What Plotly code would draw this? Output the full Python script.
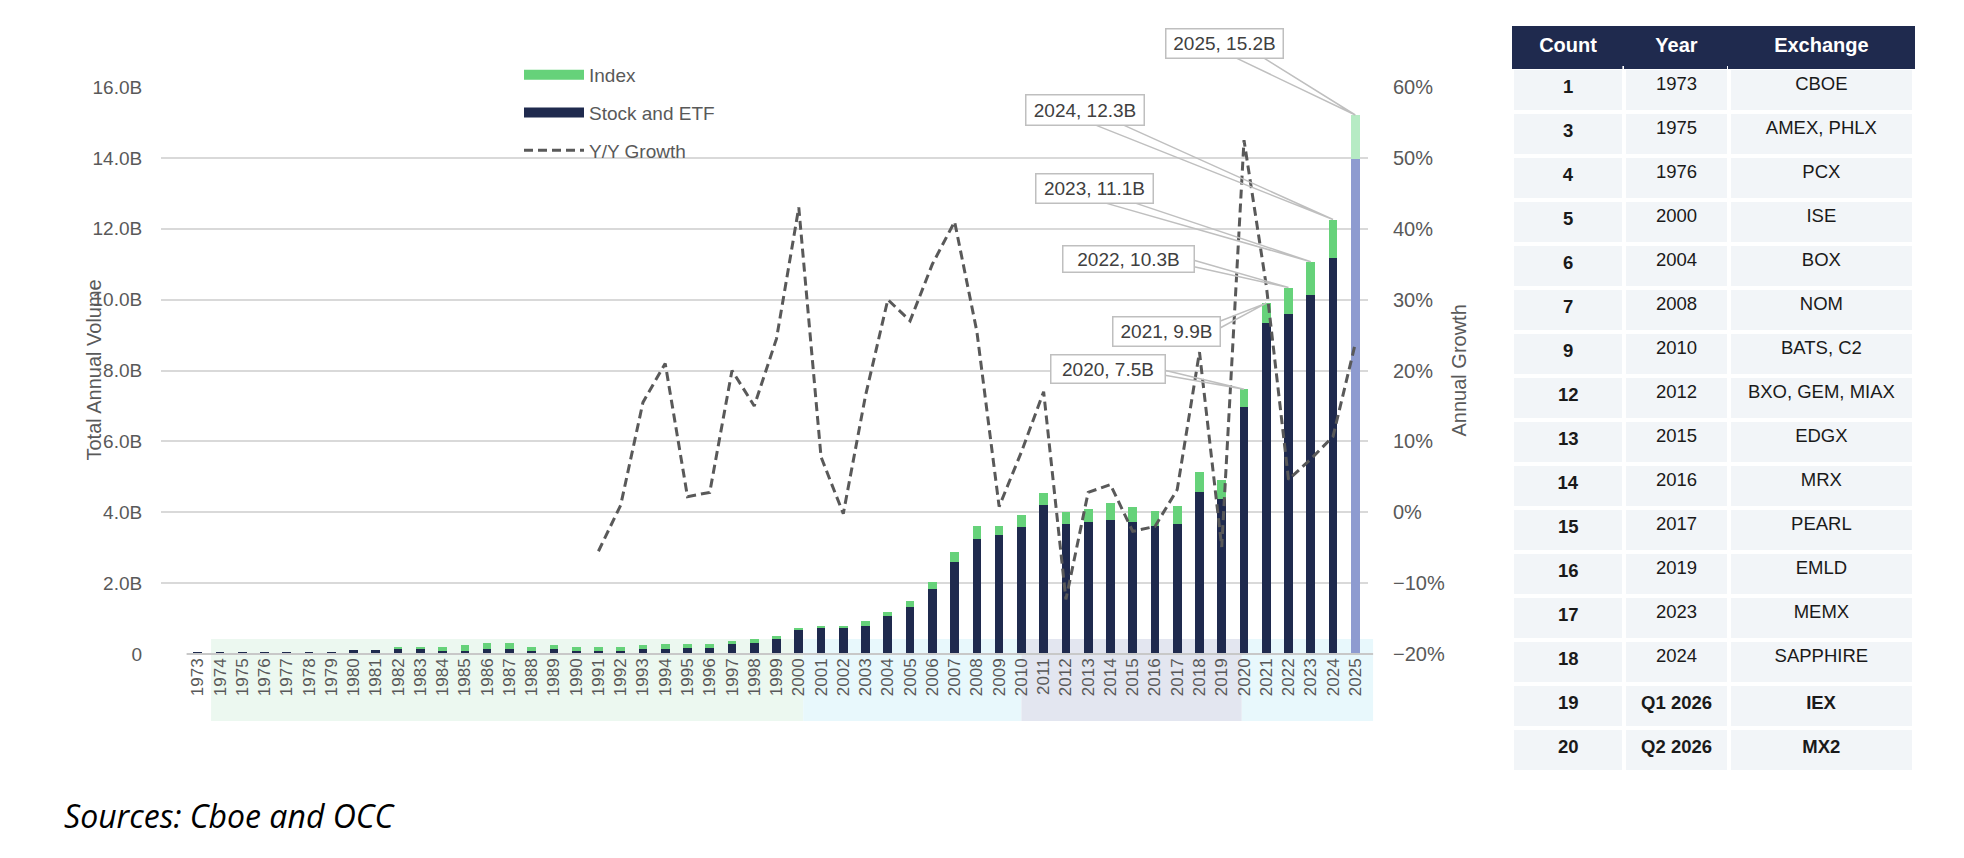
import plotly.graph_objects as go

# annual options volume, billions of contracts
years = list(range(1973, 2026))
stock_etf = [0.07, 0.07, 0.07, 0.07, 0.07, 0.07, 0.07, 0.10, 0.10,
             0.13, 0.13, 0.08, 0.08, 0.13, 0.13, 0.08, 0.13, 0.08, 0.08,
             0.08, 0.13, 0.13, 0.18, 0.18, 0.27, 0.30, 0.43,
             0.67, 0.73, 0.73, 0.80, 1.06, 1.33, 1.83, 2.59, 3.25, 3.36,
             3.57, 4.21, 3.67, 3.72, 3.79, 3.72, 3.61, 3.67, 4.56, 4.37,
             6.98, 9.33, 9.60, 10.12, 11.18, 13.96]
index_vol = [0, 0, 0, 0, 0, 0, 0, 0, 0,
             0.08, 0.08, 0.13, 0.17, 0.17, 0.19, 0.13, 0.12, 0.13, 0.13,
             0.13, 0.12, 0.16, 0.11, 0.11, 0.11, 0.12, 0.08,
             0.075, 0.07, 0.07, 0.12, 0.12, 0.16, 0.21, 0.29, 0.36, 0.25,
             0.35, 0.33, 0.35, 0.37, 0.47, 0.42, 0.42, 0.52, 0.57, 0.54,
             0.49, 0.57, 0.74, 0.95, 1.08, 1.25]

# year over year growth, %
growth_years = list(range(1991, 2026))
growth = [-5.5, 1.0, 15.5, 21.0, 2.2, 2.8, 20.0, 15.0, 24.5, 43.0,
          7.8, -0.2, 16.5, 30.0, 27.0, 35.0, 41.0, 25.5, 0.8, 8.5,
          17.0, -12.3, 2.8, 3.9, -2.7, -2.0, 3.2, 22.6, -4.9, 52.5,
          32.0, 4.6, 7.5, 10.7, 23.8]

y_ticks = [0, 2, 4, 6, 8, 10, 12, 14, 16]
y_ticktext = ["0", "2.0B", "4.0B", "6.0B", "8.0B", "10.0B", "12.0B", "14.0B", "16.0B"]
y2_ticks = [-0.2, -0.1, 0, 0.1, 0.2, 0.3, 0.4, 0.5, 0.6]

table_count = [1, 3, 4, 5, 6, 7, 9, 12, 13, 14, 15, 16, 17, 18, 19, 20]
table_year = ["1973", "1975", "1976", "2000", "2004", "2008", "2010", "2012",
              "2015", "2016", "2017", "2019", "2023", "2024", "Q1 2026", "Q2 2026"]
table_exchange = ["CBOE", "AMEX, PHLX", "PCX", "ISE", "BOX", "NOM", "BATS, C2",
                  "BXO, GEM, MIAX", "EDGX", "MRX", "PEARL", "EMLD", "MEMX",
                  "SAPPHIRE", "IEX", "MX2"]

NAVY = "#1F2A4E"
GREEN = "#66D27A"
GREY_TXT = "#595959"
FONT = "Liberation Sans"

# page has an 8px body margin, so the figure is 16px smaller than the window
OFF = 8
W, H = 1964 - 2 * OFF, 858 - 2 * OFF


def fx(px):
    return (px - OFF) / W


def fy(py):
    return 1 - (py - OFF) / H


XD = [fx(161), fx(1368)]
YD = [fy(654), fy(87)]
XR = [1971.35, 2025.57]
YR = [0, 16]


def xp(v):
    return XD[0] + (v - XR[0]) / (XR[1] - XR[0]) * (XD[1] - XD[0])


def yp(v):
    return YD[0] + (v - YR[0]) / (YR[1] - YR[0]) * (YD[1] - YD[0])


totals = [s + i for s, i in zip(stock_etf, index_vol)]
stock_colors = [NAVY] * (len(years) - 1) + ["#8E9BD0"]
index_colors = [GREEN] * (len(years) - 1) + ["#B6EBC4"]

fig = go.Figure()

fig.add_trace(go.Bar(x=years, y=stock_etf, name="Stock and ETF", width=0.39,
                     marker=dict(color=stock_colors, line_width=0), showlegend=False))
fig.add_trace(go.Bar(x=years, y=index_vol, name="Index", width=0.39,
                     marker=dict(color=index_colors, line_width=0), showlegend=False))
fig.add_trace(go.Scatter(x=growth_years, y=[g / 100 for g in growth], yaxis="y2",
                         mode="lines", name="Y/Y Growth", legendgroup="c", legendrank=3,
                         line=dict(color=GREY_TXT, width=3, dash="9px,5px")))

# legend swatches
fig.add_trace(go.Scatter(x=[None], y=[None], mode="lines", name="Index",
                         legendgroup="a", legendrank=1, line=dict(color=GREEN, width=14)))
fig.add_trace(go.Scatter(x=[None], y=[None], mode="lines", name="Stock and ETF",
                         legendgroup="b", legendrank=2, line=dict(color=NAVY, width=14)))

shapes = []
bands = [(1973.6, 2000.2, "#ECF8F0"), (2000.2, 2010.0, "#E8F8FC"),
         (2010.0, 2019.9, "#E3E6F0"), (2019.9, 2025.8, "#E8F8FC")]
for x0, x1, c in bands:
    shapes.append(dict(type="rect", xref="paper", yref="paper", x0=xp(x0), x1=xp(x1),
                       y0=fy(721), y1=fy(639), fillcolor=c, line_width=0, layer="below"))
shapes.append(dict(type="line", xref="paper", yref="paper", x0=xp(1972.5), x1=xp(2025.8),
                   y0=YD[0], y1=YD[0], line=dict(color="#C8C8C8", width=2), layer="above"))

annotations = []
# year, box centre (year, value), box w, h, leader base offsets in px from centre
callouts = [
    (2020, 2013.87, 8.04, 113, 27, [(56, 1), (56, 6)]),
    (2021, 2016.50, 9.10, 106, 28, [(53, -10), (53, -3)]),
    (2022, 2014.79, 11.16, 130, 25, [(65, 1.5), (65, 8)]),
    (2023, 2013.27, 13.14, 116, 28, [(9, 14), (39, 14)]),
    (2024, 2012.86, 15.34, 117, 29, [(10, 14.5), (38, 14.5)]),
    (2025, 2019.14, 17.23, 116, 28, [(10, 14), (38, 14)]),
]
for yr, bx, by, bw, bh, base in callouts:
    tot = totals[years.index(yr)]
    cx, cy = xp(bx), yp(by)
    tx, ty = xp(yr), yp(tot)
    p1 = (cx + base[0][0] / W, cy - base[0][1] / H)
    p2 = (cx + base[1][0] / W, cy - base[1][1] / H)
    shapes.append(dict(type="path", xref="paper", yref="paper", layer="above",
                       path=f"M{p1[0]},{p1[1]} L{tx},{ty} L{p2[0]},{p2[1]}",
                       line=dict(color="#BFBFBF", width=1.5)))
    annotations.append(dict(x=cx, y=cy, xref="paper", yref="paper", showarrow=False,
                            xanchor="center", yanchor="middle",
                            text=f"{yr}, {tot:.1f}B", width=bw, height=bh,
                            bgcolor="white", bordercolor="#BFBFBF", borderwidth=1.5,
                            borderpad=0, font=dict(size=19, color="#404040", family=FONT)))

mid_y = (YD[0] + YD[1]) / 2
annotations.append(dict(x=fx(94), y=mid_y, xref="paper", yref="paper",
                        xanchor="center", yanchor="middle",
                        text="Total Annual Volume", textangle=-90, showarrow=False,
                        font=dict(size=20, color=GREY_TXT, family=FONT)))
annotations.append(dict(x=fx(1459), y=mid_y, xref="paper", yref="paper",
                        xanchor="center", yanchor="middle",
                        text="Annual Growth", textangle=-90, showarrow=False,
                        font=dict(size=20, color=GREY_TXT, family=FONT)))
annotations.append(dict(x=fx(62), y=fy(815), xref="paper", yref="paper",
                        xanchor="left", yanchor="middle", showarrow=False,
                        text="<i>Sources: Cboe and OCC</i>",
                        font=dict(size=32, color="black", family="Open Sans")))


def bold(v):
    return f"<b>{v}</b>"


upcoming = [y.startswith("Q") for y in table_year]
fig.add_trace(go.Table(
    domain=dict(x=[fx(1512), fx(1915)], y=[fy(820), fy(26)]),
    columnwidth=[110.6, 102.7, 182.3],
    header=dict(values=[bold("Count"), bold("Year"), bold("Exchange")],
                fill_color=NAVY, line=dict(color=NAVY, width=1), height=42,
                align="center", font=dict(color="white", size=20, family=FONT)),
    cells=dict(values=[[bold(c) for c in table_count],
                       [bold(y) if u else y for y, u in zip(table_year, upcoming)],
                       [bold(e) if u else e for e, u in zip(table_exchange, upcoming)]],
               fill_color="#F2F5F8", line=dict(color="white", width=4), height=44,
               align="center", font=dict(color="#1A1A1A", size=18.5, family=FONT)),
))

fig.update_layout(
    width=W, height=H, autosize=False,
    margin=dict(l=0, r=0, t=0, b=0, pad=0, autoexpand=False),
    paper_bgcolor="white", plot_bgcolor="white",
    barmode="stack", bargap=0.6,
    font=dict(family=FONT, color=GREY_TXT),
    shapes=shapes, annotations=annotations,
    legend=dict(x=fx(519), y=fy(56), xanchor="left", yanchor="top",
                traceorder="grouped", tracegroupgap=10, itemwidth=60,
                bgcolor="rgba(0,0,0,0)", font=dict(size=19, color=GREY_TXT, family=FONT)),
    xaxis=dict(domain=XD, range=XR, tickmode="array", tickvals=years,
               ticktext=[str(y) for y in years], tickangle=-90, automargin=False,
               tickfont=dict(size=17, color=GREY_TXT), showgrid=False,
               zeroline=False, showline=False, ticks=""),
    yaxis=dict(domain=YD, range=YR, tickmode="array", tickvals=y_ticks,
               ticktext=y_ticktext, gridcolor="#D9D9D9", gridwidth=1.5, automargin=False,
               zeroline=False, ticks="outside", ticklen=14, tickcolor="rgba(0,0,0,0)",
               tickfont=dict(size=19, color=GREY_TXT)),
    yaxis2=dict(overlaying="y", side="right", anchor="x", range=[-0.2, 0.6],
                tickmode="array", tickvals=y2_ticks, tickformat=".0%", automargin=False,
                showgrid=False, zeroline=False, ticks="outside", ticklen=20,
                tickcolor="rgba(0,0,0,0)", tickfont=dict(size=20, color=GREY_TXT)),
)

fig.write_html("out.html")
